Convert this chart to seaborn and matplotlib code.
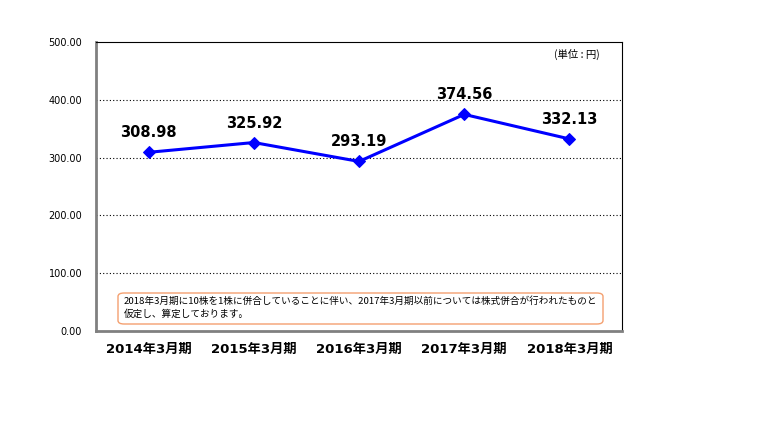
import matplotlib
matplotlib.use("Agg")
import matplotlib.pyplot as plt
import seaborn as sns
import pandas as pd
from matplotlib.patches import FancyBboxPatch

# data
periods = ["2014年3月期", "2015年3月期", "2016年3月期", "2017年3月期", "2018年3月期"]
eps = [308.98, 325.92, 293.19, 374.56, 332.13]
y_ticks = [0, 100, 200, 300, 400, 500]
unit_label = "(単位 : 円)"
note_lines = ["2018年3月期に10株を1株に併合していることに伴い、2017年3月期以前については株式併合が行われたものと",
              "仮定し、算定しております。"]

df = pd.DataFrame({"pos": range(len(periods)), "eps": eps})

sns.set_style("white")
plt.rcParams["font.family"] = ["Noto Sans CJK JP", "DejaVu Sans"]
plt.rcParams["text.color"] = "black"
plt.rcParams["xtick.color"] = "black"
plt.rcParams["ytick.color"] = "black"

fig = plt.figure(figsize=(7.68, 4.32), dpi=100)
ax = fig.add_axes([0.125, 0.234, 0.685, 0.669])

sns.lineplot(data=df, x="pos", y="eps", ax=ax, color="#0000FF", linewidth=2.2,
             marker="D", markersize=6, markeredgecolor="#0000FF")

for x, v in zip(df["pos"], df["eps"]):
    ax.annotate(f"{v:.2f}", (x, v), xytext=(0, 14), textcoords="offset points",
                ha="center", va="center", fontsize=10.5, fontweight="bold",
                family="DejaVu Sans", color="black")

ax.set_xlim(-0.5, len(periods) - 0.5)
ax.set_ylim(0, 500)
ax.set_yticks(y_ticks)
ax.set_yticklabels([f"{t:.2f}" for t in y_ticks], fontsize=7, family="DejaVu Sans")
ax.set_xticks(df["pos"])
ax.set_xticklabels(periods, fontsize=9.5, fontweight="bold",
                   family=["DejaVu Sans", "Noto Sans CJK JP"])
ax.tick_params(axis="x", length=0, pad=9)
ax.tick_params(axis="y", length=0, pad=10)
ax.set_xticks([i + 0.5 for i in range(len(periods) - 1)], minor=True)
ax.tick_params(axis="x", which="minor", direction="in", length=3, width=1, color="#555555")
ax.set_xlabel("")
ax.set_ylabel("")

for t in y_ticks[1:-1]:
    ax.axhline(t, color="black", linestyle=(0, (1, 2)), linewidth=0.8, zorder=0)

for side in ["top", "right"]:
    ax.spines[side].set_color("black")
    ax.spines[side].set_linewidth(0.8)
for side in ["left", "bottom"]:
    ax.spines[side].set_color("#808080")
    ax.spines[side].set_linewidth(2)

ax.text(0.958, 0.955, unit_label, transform=ax.transAxes, ha="right", va="center",
        fontsize=7.5)

# note box at the bottom of the plot area
box = FancyBboxPatch((118 / 768, 1 - 324 / 432), 485 / 768, 31 / 432,
                     boxstyle="round,pad=0,rounding_size=0.008", transform=fig.transFigure,
                     facecolor="white", edgecolor="#F4A070", linewidth=1)
fig.patches.append(box)
fig.text(124 / 768, 1 - 301 / 432, note_lines[0], fontsize=6.9, va="center")
fig.text(124 / 768, 1 - 314 / 432, note_lines[1], fontsize=6.9, va="center")

fig.savefig("out.png", dpi=100)
